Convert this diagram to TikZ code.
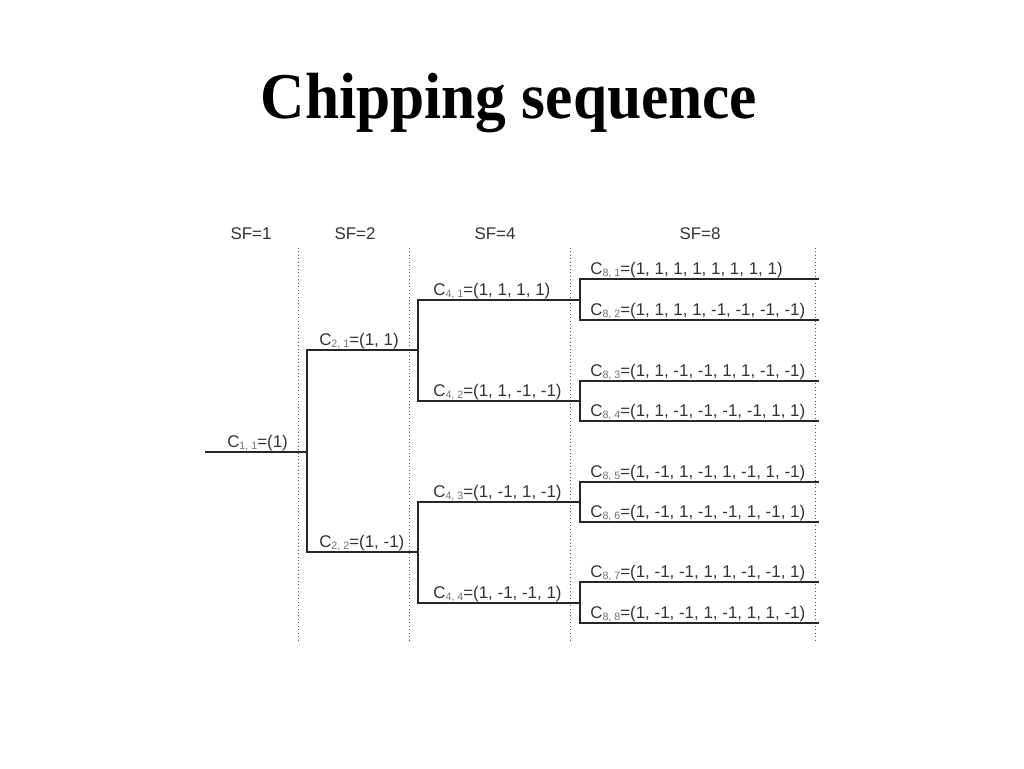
\documentclass[tikz,border=0pt]{standalone}
\usepackage{fontspec}
\setmainfont{Liberation Serif}
\newfontfamily\arialfont{Liberation Sans}
\definecolor{txt}{HTML}{333333}
\definecolor{subtxt}{HTML}{707070}
\definecolor{sepc}{HTML}{555555}
\newcommand{\codelab}[3]{C\raisebox{-0.2ex}{\fontsize{8}{10}\selectfont\color{subtxt}#1, #2}=(#3)}
\begin{document}
\begin{tikzpicture}[x=0.75pt,y=-0.75pt,
  tree/.style={draw=black!85, line width=1.3pt, line cap=rect},
  sepline/.style={draw=sepc, line width=0.6pt, dotted},
  hdr/.style={font=\arialfont\fontsize{12.7}{14}\selectfont, text=txt, inner sep=0pt},
  lab/.style={font=\arialfont\fontsize{12.7}{14}\selectfont, text=txt, inner sep=0pt, anchor=base west},
  ttl/.style={font=\bfseries\fontsize{49}{55}\selectfont, text=black, inner sep=0pt, anchor=base, xscale=0.94, transform shape}]
\useasboundingbox (0,0) rectangle (1024,768);
% title
\node[ttl] (title) at (509,118) {Chipping sequence};
% headers
\node[hdr] (sf1) at (251,234) {SF=1};
\node[hdr] (sf2) at (355,234) {SF=2};
\node[hdr] (sf4) at (495,234) {SF=4};
\node[hdr] (sf8) at (700,234) {SF=8};
% separators
\coordinate (d1t) at (298,248); \coordinate (d1b) at (298,643);
\coordinate (d2t) at (409,248); \coordinate (d2b) at (409,643);
\coordinate (d3t) at (570,248); \coordinate (d3b) at (570,643);
\coordinate (d4t) at (815,248); \coordinate (d4b) at (815,643);
\draw[sepline] (d1t) -- (d1b);
\draw[sepline] (d2t) -- (d2b);
\draw[sepline] (d3t) -- (d3b);
\draw[sepline] (d4t) -- (d4b);
% tree coordinates
\coordinate (s0) at (206,452);
\coordinate (j1) at (307,452);
\coordinate (e21) at (418,350);
\coordinate (e22) at (418,552);
\coordinate (e41) at (580,300);
\coordinate (e42) at (580,401);
\coordinate (e43) at (580,502);
\coordinate (e44) at (580,603);
\coordinate (e81) at (818,279);
\coordinate (e82) at (818,320);
\coordinate (e83) at (818,381);
\coordinate (e84) at (818,421);
\coordinate (e85) at (818,482);
\coordinate (e86) at (818,522);
\coordinate (e87) at (818,582);
\coordinate (e88) at (818,623);
% tree
\draw[tree] (s0) -- (j1);
\draw[tree] (e21) -| (j1) |- (e22);
\draw[tree] (e41) -| (e21) |- (e42);
\draw[tree] (e43) -| (e22) |- (e44);
\draw[tree] (e81) -| (e41) |- (e82);
\draw[tree] (e83) -| (e42) |- (e84);
\draw[tree] (e85) -| (e43) |- (e86);
\draw[tree] (e87) -| (e44) |- (e88);
% labels
\node[lab] (l11) at (227,447.5) {\codelab{1}{1}{1}};
\node[lab] (l21) at (319,345.5) {\codelab{2}{1}{1, 1}};
\node[lab] (l22) at (319,547.5) {\codelab{2}{2}{1, -1}};
\node[lab] (l41) at (433,295.5) {\codelab{4}{1}{1, 1, 1, 1}};
\node[lab] (l42) at (433,396.5) {\codelab{4}{2}{1, 1, -1, -1}};
\node[lab] (l43) at (433,497.5) {\codelab{4}{3}{1, -1, 1, -1}};
\node[lab] (l44) at (433,598.5) {\codelab{4}{4}{1, -1, -1, 1}};
\node[lab] (l81) at (590,274.5) {\codelab{8}{1}{1, 1, 1, 1, 1, 1, 1, 1}};
\node[lab] (l82) at (590,315.5) {\codelab{8}{2}{1, 1, 1, 1, -1, -1, -1, -1}};
\node[lab] (l83) at (590,376.5) {\codelab{8}{3}{1, 1, -1, -1, 1, 1, -1, -1}};
\node[lab] (l84) at (590,416.5) {\codelab{8}{4}{1, 1, -1, -1, -1, -1, 1, 1}};
\node[lab] (l85) at (590,477.5) {\codelab{8}{5}{1, -1, 1, -1, 1, -1, 1, -1}};
\node[lab] (l86) at (590,517.5) {\codelab{8}{6}{1, -1, 1, -1, -1, 1, -1, 1}};
\node[lab] (l87) at (590,577.5) {\codelab{8}{7}{1, -1, -1, 1, 1, -1, -1, 1}};
\node[lab] (l88) at (590,618.5) {\codelab{8}{8}{1, -1, -1, 1, -1, 1, 1, -1}};
\end{tikzpicture}
\end{document}
